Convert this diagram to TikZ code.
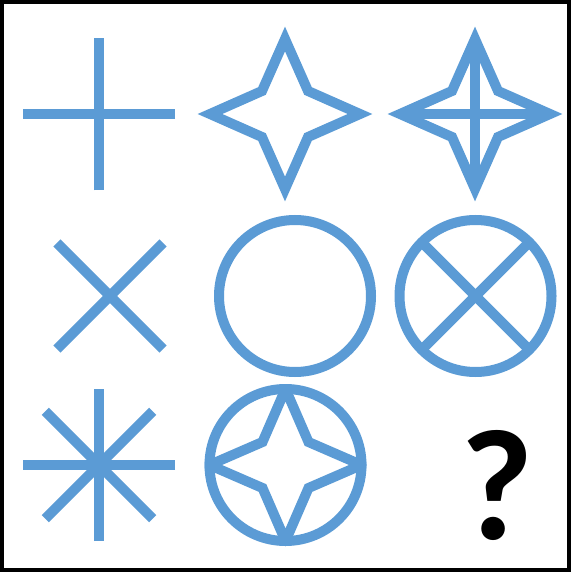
\documentclass[tikz,border=0pt]{standalone}
\usepackage{fontspec}
\newfontfamily\markfont{Carlito}
\usepackage{tikz}
\definecolor{glyphblue}{HTML}{5B9BD5}

\begin{document}
\begin{tikzpicture}[x=1pt,y=-1pt]
\tikzstyle{glyph}=[draw=glyphblue,line width=10pt,line join=miter]
\tikzstyle{qmark}=[inner sep=0pt,anchor=base,font=\markfont\bfseries\fontsize{158}{158}\selectfont]
\useasboundingbox (0,0) rectangle (571,585);
\draw[line width=4pt] (2,2) rectangle (569,570);

% cell centres
\coordinate (plus) at (99,114.5);
\coordinate (star1) at (285,114);
\coordinate (star2) at (475,114);
\coordinate (cross) at (110,296);
\coordinate (ring) at (295,296);
\coordinate (ringx) at (475.5,296);
\coordinate (ast) at (99,465);
\coordinate (star3) at (285.5,465);

% row 1
\foreach \a in {0,90}
  \draw[glyph,shift={(plus)}] (\a:76) -- (\a+180:76);
\foreach \c in {star1,star2}
  \draw[glyph,shift={(\c)}] (0,-75) -- (23,-23) -- (75,0) -- (23,23) -- (0,75) -- (-23,23) -- (-75,0) -- (-23,-23) -- cycle;
\draw[glyph,shift={(star2)}] (0,-75) -- (0,75) (-75,0) -- (75,0);

% row 2
\foreach \a in {45,135}
  \draw[glyph,shift={(cross)}] (\a:75) -- (\a+180:75);
\draw[glyph] (ring) circle (76);
\draw[glyph] (ringx) circle (76);
\foreach \a in {45,135}
  \draw[glyph,shift={(ringx)}] (\a:76) -- (\a+180:76);

% row 3
\foreach \a in {0,45,90,135}
  \draw[glyph,shift={(ast)}] (\a:76) -- (\a+180:76);
\draw[glyph] (star3) circle (76);
\begin{scope}
\clip (star3) circle (81);
\draw[glyph,shift={(star3)}] (0,-76) -- (23,-23) -- (76,0) -- (23,23) -- (0,76) -- (-23,23) -- (-76,0) -- (-23,-23) -- cycle;
\end{scope}

\node[qmark] (quest) at (497.5,539) {?};
\end{tikzpicture}
\end{document}
